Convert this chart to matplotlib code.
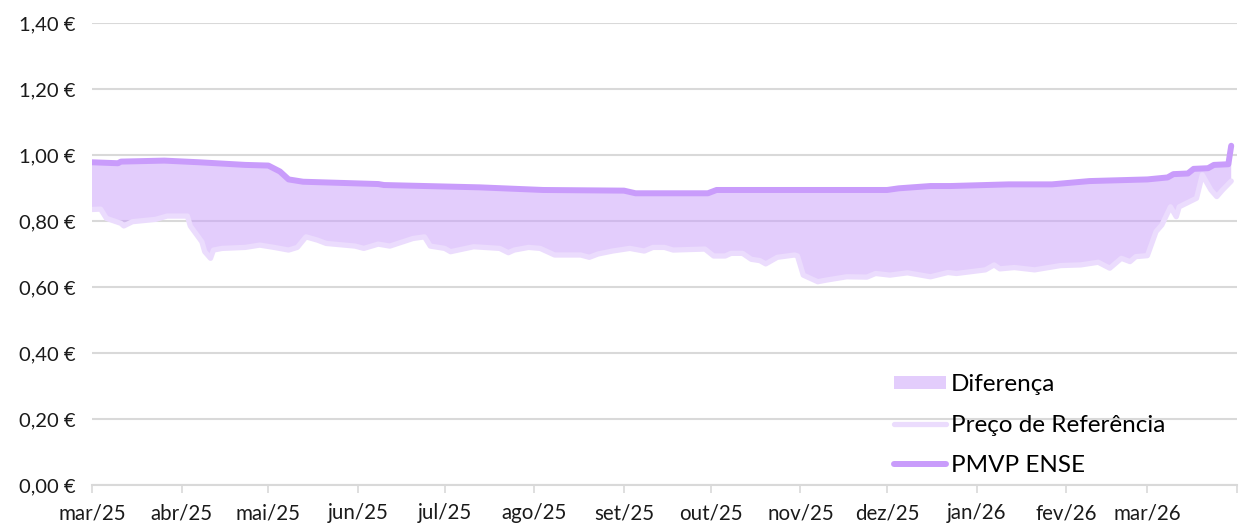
import matplotlib
matplotlib.use("Agg")
import matplotlib.pyplot as plt
import matplotlib.dates as mdates
from matplotlib.lines import Line2D
from matplotlib.patches import Patch
from matplotlib.ticker import FuncFormatter
import numpy as np

# PMVP ENSE (EUR/l)
pmvp_dates = [
    "2025-03-01", "2025-03-10", "2025-03-11", "2025-03-26", "2025-04-07", "2025-04-23",
    "2025-05-01", "2025-05-05", "2025-05-08", "2025-05-13", "2025-06-08", "2025-06-10",
    "2025-07-13", "2025-08-04", "2025-09-01", "2025-09-05", "2025-09-30", "2025-10-03",
    "2025-12-01", "2025-12-05", "2025-12-16", "2025-12-23", "2026-01-12", "2026-01-27",
    "2026-02-09", "2026-03-01", "2026-03-08", "2026-03-10", "2026-03-15", "2026-03-17",
    "2026-03-22", "2026-03-24", "2026-03-29", "2026-03-30",
]
pmvp_values = [
    0.978, 0.975, 0.980, 0.983, 0.978, 0.970,
    0.968, 0.950, 0.926, 0.919, 0.912, 0.909,
    0.902, 0.894, 0.892, 0.884, 0.884, 0.894,
    0.894, 0.899, 0.906, 0.906, 0.911, 0.911,
    0.921, 0.926, 0.932, 0.942, 0.944, 0.958,
    0.960, 0.970, 0.972, 1.028,
]

# Preço de Referência (EUR/l)
ref_dates = [
    "2025-03-01", "2025-03-04", "2025-03-06", "2025-03-11", "2025-03-12", "2025-03-15",
    "2025-03-23", "2025-03-27", "2025-04-03", "2025-04-04", "2025-04-08", "2025-04-09",
    "2025-04-11", "2025-04-12", "2025-04-15", "2025-04-23", "2025-04-28", "2025-05-03",
    "2025-05-08", "2025-05-11", "2025-05-14", "2025-05-18", "2025-05-21", "2025-05-31",
    "2025-06-03", "2025-06-08", "2025-06-12", "2025-06-20", "2025-06-24", "2025-06-26",
    "2025-07-01", "2025-07-03", "2025-07-11", "2025-07-20", "2025-07-23", "2025-07-25",
    "2025-07-30", "2025-08-03", "2025-08-08", "2025-08-17", "2025-08-20", "2025-08-23",
    "2025-08-28", "2025-09-03", "2025-09-08", "2025-09-11", "2025-09-15", "2025-09-18",
    "2025-09-29", "2025-10-02", "2025-10-06", "2025-10-08", "2025-10-12", "2025-10-15",
    "2025-10-18", "2025-10-20", "2025-10-24", "2025-10-30", "2025-10-31", "2025-11-02",
    "2025-11-07", "2025-11-10", "2025-11-17", "2025-11-24", "2025-11-27", "2025-12-02",
    "2025-12-08", "2025-12-16", "2025-12-22", "2025-12-25", "2026-01-04", "2026-01-07",
    "2026-01-09", "2026-01-14", "2026-01-21", "2026-01-30", "2026-02-06", "2026-02-12",
    "2026-02-16", "2026-02-20", "2026-02-23", "2026-02-25", "2026-03-01", "2026-03-04",
    "2026-03-06", "2026-03-09", "2026-03-11", "2026-03-12", "2026-03-18", "2026-03-20",
    "2026-03-23", "2026-03-25", "2026-03-27", "2026-03-30",
]
ref_values = [
    0.835, 0.836, 0.808, 0.793, 0.785, 0.798,
    0.805, 0.815, 0.815, 0.785, 0.737, 0.707,
    0.687, 0.712, 0.717, 0.720, 0.727, 0.720,
    0.712, 0.720, 0.752, 0.742, 0.732, 0.724,
    0.717, 0.730, 0.724, 0.747, 0.752, 0.724,
    0.717, 0.707, 0.722, 0.717, 0.704, 0.712,
    0.720, 0.717, 0.697, 0.697, 0.690, 0.700,
    0.709, 0.717, 0.709, 0.720, 0.720, 0.712,
    0.715, 0.694, 0.694, 0.702, 0.702, 0.684,
    0.680, 0.670, 0.690, 0.697, 0.694, 0.636,
    0.616, 0.621, 0.631, 0.630, 0.641, 0.636,
    0.643, 0.631, 0.644, 0.641, 0.652, 0.667,
    0.655, 0.659, 0.652, 0.665, 0.667, 0.675,
    0.657, 0.687, 0.677, 0.692, 0.695, 0.768,
    0.788, 0.843, 0.813, 0.843, 0.869, 0.940,
    0.894, 0.874, 0.894, 0.921,
]

month_labels = ["mar/25", "abr/25", "mai/25", "jun/25", "jul/25", "ago/25", "set/25",
                "out/25", "nov/25", "dez/25", "jan/26", "fev/26", "mar/26"]
y_ticks = [0.0, 0.2, 0.4, 0.6, 0.8, 1.0, 1.2, 1.4]

PURPLE = "#c99cfb"
LIGHT = "#ebdcfd"
GRID = "#d9d9d9"
TEXT = "#1a1a1a"


def main() -> None:
    plt.rcParams["font.family"] = ["Lato", "DejaVu Sans"]
    pd_ = np.array(pmvp_dates, dtype="datetime64[D]")
    rd = np.array(ref_dates, dtype="datetime64[D]")
    pv = np.array(pmvp_values)
    rv = np.array(ref_values)

    fig = plt.figure(figsize=(12.56, 5.23), dpi=100)
    ax = fig.add_axes([92 / 1256, 38 / 523, 1145 / 1256, 462 / 523])

    # area between the two series
    xs = np.concatenate([mdates.date2num(pd_), mdates.date2num(rd)[::-1]])
    ys = np.concatenate([pv, rv[::-1]])
    ax.fill(xs, ys, color=PURPLE, alpha=0.5, lw=0, zorder=2)
    ax.plot(rd, rv, color=LIGHT, lw=3.8, solid_joinstyle="round", solid_capstyle="round", zorder=3)
    ax.plot(pd_, pv, color=PURPLE, lw=4.3, solid_joinstyle="round", solid_capstyle="round", zorder=4)

    ax.set_ylim(0, 1.4)
    ax.set_yticks(y_ticks)
    ax.yaxis.set_major_formatter(FuncFormatter(lambda v, _: f"{v:.2f}".replace(".", ",") + " €"))
    ax.grid(axis="y", color=GRID, lw=1.5)
    ax.set_axisbelow(True)

    month_starts = np.arange(np.datetime64("2025-03"), np.datetime64("2026-05"),
                             dtype="datetime64[M]").astype("datetime64[D]")
    ax.set_xlim(month_starts[0], month_starts[-1])
    ax.set_xticks(month_starts)
    ax.set_xticklabels(month_labels + [""])

    for s in ("top", "right", "left"):
        ax.spines[s].set_visible(False)
    ax.spines["bottom"].set_color(GRID)
    ax.spines["bottom"].set_linewidth(1.5)
    ax.tick_params(axis="y", length=0, pad=12, labelsize=14.5, labelcolor=TEXT)
    ax.tick_params(axis="x", length=6, width=1.2, color=GRID, pad=7, labelsize=14.8, labelcolor=TEXT)

    handles = [
        Patch(facecolor=PURPLE, alpha=0.5, edgecolor="none"),
        Line2D([], [], color=LIGHT, lw=3.8, solid_capstyle="round"),
        Line2D([], [], color=PURPLE, lw=4.3, solid_capstyle="round"),
    ]
    ax.legend(handles, ["Diferença", "Preço de Referência", "PMVP ENSE"],
              loc="upper left", bbox_to_anchor=(0.70, 0.24), frameon=False,
              fontsize=17.5, borderpad=0, borderaxespad=0, handlelength=2.15,
              handleheight=0.5, handletextpad=0.2, labelspacing=0.8)

    fig.savefig("out.png", dpi=100)
    plt.close(fig)


if __name__ == "__main__":
    main()
